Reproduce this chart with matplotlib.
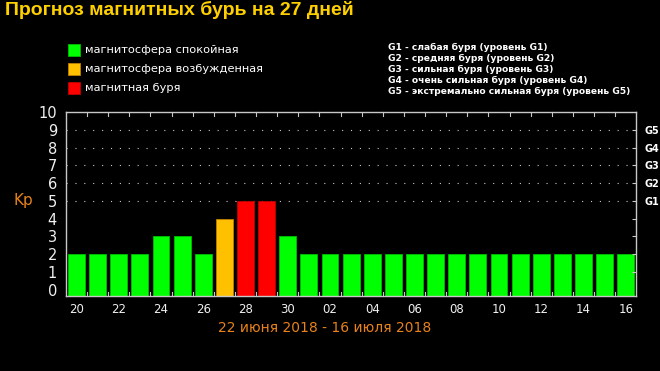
import matplotlib
matplotlib.use('Agg')
import matplotlib.pyplot as plt
from matplotlib.patches import Rectangle

# дни прогноза: 20-30 июня, 01-16 июля
days = [20, 21, 22, 23, 24, 25, 26, 27, 28, 29, 30,
        1, 2, 3, 4, 5, 6, 7, 8, 9, 10, 11, 12, 13, 14, 15, 16]
kp = [2, 2, 2, 2, 3, 3, 2, 4, 5, 5, 3,
      2, 2, 2, 2, 2, 2, 2, 2, 2, 2, 2, 2, 2, 2, 2, 2]
state = ['q', 'q', 'q', 'q', 'q', 'q', 'q', 'e', 's', 's', 'q',
         'q', 'q', 'q', 'q', 'q', 'q', 'q', 'q', 'q', 'q', 'q', 'q', 'q', 'q', 'q', 'q']
g_levels = ['G1', 'G2', 'G3', 'G4', 'G5']
g_text = ['G1 - слабая буря (уровень G1)',
          'G2 - средняя буря (уровень G2)',
          'G3 - сильная буря (уровень G3)',
          'G4 - очень сильная буря (уровень G4)',
          'G5 - экстремально сильная буря (уровень G5)']
legend_names = ['магнитосфера спокойная', 'магнитосфера возбужденная', 'магнитная буря']

colors = {'q': '#00ff00', 'e': '#ffc000', 's': '#ff0000'}
edges = {'q': '#00c000', 'e': '#c08000', 's': '#c00000'}
orange = '#e8821a'
ybase = -0.35

fig = plt.figure(figsize=(6.6, 3.71), dpi=100, facecolor='black')
ax = fig.add_axes([0.1, 0.202, 0.864, 0.496], facecolor='black')

x = list(range(len(days)))
ax.bar(x, [v - ybase for v in kp], bottom=ybase, width=0.8,
       color=[colors[s] for s in state], edgecolor=[edges[s] for s in state], linewidth=0.6)

ax.set_xlim(-0.5, 26.5)
ax.set_ylim(ybase, 10)

for y in range(5, 10):
    ax.axhline(y, color='#cccccc', linestyle=(0, (1, 7)), linewidth=0.8, zorder=0)

for sp in ax.spines.values():
    sp.set_color('#c8c8c8')
    sp.set_linewidth(1)

ax.set_yticks(range(0, 11))
ax.set_yticklabels([str(i) for i in range(0, 11)], color='#f0f0f0', fontsize=10.5)
ax.tick_params(axis='y', left=False, pad=3)

ax.set_xticks(x[::2])
ax.set_xticklabels(['%02d' % d for d in days[::2]], color='#f0f0f0', fontsize=8.5)
ax.tick_params(axis='x', length=0, pad=5)

# мелкие засечки между столбиками
for k in range(len(days) - 1):
    ax.plot([k + 0.5, k + 0.5], [ybase, ybase + 0.25], color='#c8c8c8', lw=0.8, clip_on=False)
    ax.plot([k + 0.5, k + 0.5], [10, 9.75], color='#c8c8c8', lw=0.8, clip_on=False)

# правая ось G
ax2 = ax.twinx()
ax2.set_ylim(ybase, 10)
ax2.set_yticks(range(1, 10))
ax2.set_yticklabels(['', '', '', ''] + g_levels, color='white', fontsize=7, fontweight='bold')
ax2.tick_params(axis='y', direction='in', length=3, color='#c8c8c8', pad=6)
for sp in ax2.spines.values():
    sp.set_visible(False)

ax.text(-0.075, 5, 'Kp', transform=ax.get_yaxis_transform(), color=orange,
        fontsize=11, ha='center', va='center')

fig.text(0.008, 0.972, 'Прогноз магнитных бурь на 27 дней', color='#ffd000',
         fontsize=14, fontweight='bold', family=['Liberation Sans', 'DejaVu Sans'],
         ha='left', va='center')

# легенда состояний
for i, (name, key) in enumerate(zip(legend_names, ['q', 'e', 's'])):
    yy = 371 - 50 - i * 19
    fig.patches.append(Rectangle((68 / 660, (yy - 6) / 371), 12 / 660, 12 / 371,
                                 transform=fig.transFigure, facecolor=colors[key],
                                 edgecolor=edges[key], linewidth=0.6))
    fig.text(85 / 660, yy / 371, name, color='white', fontsize=8.2, ha='left', va='center')

for i, t in enumerate(g_text):
    fig.text(388 / 660, (371 - 47 - i * 11) / 371, t, color='white', fontsize=6.6,
             fontweight='bold', ha='left', va='center')

fig.text(325 / 660, 1 - 328 / 371, '22 июня 2018 - 16 июля 2018', color=orange,
         fontsize=10, ha='center', va='center')

plt.savefig('out.png', dpi=100, facecolor='black')
